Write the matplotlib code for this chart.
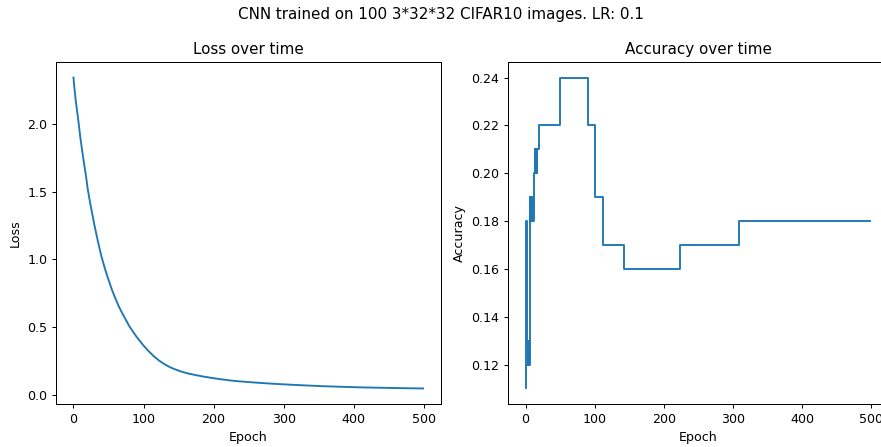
import matplotlib
matplotlib.use("Agg")
import matplotlib.pyplot as plt

loss_epochs = [0, 1, 2, 3, 4, 5, 7, 10, 13, 15, 18, 20, 24, 27, 30, 35, 40, 45, 50, 55,
               60, 65, 70, 80, 90, 100, 107, 115, 122, 130, 138, 145, 153, 163, 175,
               185, 197, 210, 222, 235, 258, 275, 290, 305, 320, 337, 354, 372, 390,
               410, 430, 450, 470, 485, 499]
loss_values = [2.34, 2.28, 2.23, 2.18, 2.14, 2.10, 2.02, 1.89, 1.78, 1.71, 1.61, 1.53,
               1.41, 1.33, 1.25, 1.13, 1.02, 0.93, 0.85, 0.775, 0.71, 0.65, 0.60, 0.505,
               0.43, 0.365, 0.325, 0.285, 0.255, 0.228, 0.205, 0.19, 0.175, 0.16, 0.147,
               0.137, 0.127, 0.117, 0.109, 0.102, 0.093, 0.087, 0.082, 0.078, 0.074,
               0.070, 0.066, 0.063, 0.060, 0.057, 0.055, 0.053, 0.051, 0.050, 0.049]

# Accuracy (epochs where the value changes; held until the next change)
acc_epochs = [0, 1, 2, 3, 4, 5, 6, 7, 8, 9, 10, 11, 12, 13, 14, 15, 16, 17, 19,
              50, 91, 101, 112, 143, 223, 309, 499]
acc_values = [0.11, 0.18, 0.13, 0.12, 0.13, 0.12, 0.19, 0.18, 0.19, 0.18, 0.19, 0.18,
              0.20, 0.21, 0.20, 0.21, 0.20, 0.21, 0.22,
              0.24, 0.22, 0.19, 0.17, 0.16, 0.17, 0.18, 0.18]

s = 0.91
plt.rcParams.update({
    "font.size": 10 * s,
    "axes.titlesize": 12 * s,
    "figure.titlesize": 12 * s,
    "lines.linewidth": 1.5 * s,
    "axes.linewidth": 0.8 * s,
    "xtick.major.size": 3.5 * s,
    "ytick.major.size": 3.5 * s,
    "xtick.major.width": 0.8 * s,
    "ytick.major.width": 0.8 * s,
    "xtick.major.pad": 3.5 * s,
    "ytick.major.pad": 3.5 * s,
    "axes.titlepad": 6 * s,
    "axes.labelpad": 4 * s,
})

fig = plt.figure(figsize=(8.81, 4.47), dpi=100)
ax1 = fig.add_axes([56 / 881, 43 / 447, 384.5 / 881, 342 / 447])
ax2 = fig.add_axes([508.3 / 881, 43 / 447, 379.3 / 881, 342 / 447])

ax1.plot(loss_epochs, loss_values, color="#1f77b4")
ax1.set_title("Loss over time")
ax1.set_xlabel("Epoch")
ax1.set_ylabel("Loss")
ax1.set_xticks([0, 100, 200, 300, 400, 500])
ax1.set_xlim(-24.95, 523.95)

ax2.plot(acc_epochs, acc_values, color="#1f77b4", drawstyle="steps-post")
ax2.set_title("Accuracy over time")
ax2.set_xlabel("Epoch")
ax2.set_ylabel("Accuracy")
ax2.set_xticks([0, 100, 200, 300, 400, 500])
ax2.set_xlim(-24.95, 523.95)

fig.suptitle("CNN trained on 100 3*32*32 CIFAR10 images. LR: 0.1", y=0.985)

fig.savefig("out.png", dpi=100)
